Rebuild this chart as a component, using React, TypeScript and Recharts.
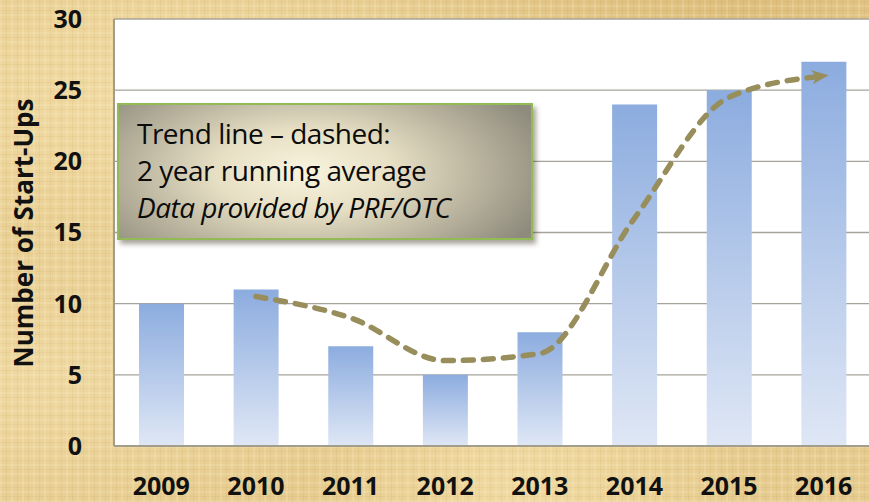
import React from 'react';
import { ComposedChart, Bar, Line, XAxis, YAxis, CartesianGrid } from 'recharts';

const years = ['2009', '2010', '2011', '2012', '2013', '2014', '2015', '2016'];
const startUps = [10, 11, 7, 5, 8, 24, 25, 27];
const runningAverage: (number | null)[] = [null, 10.5, 9, 6, 6.5, 16, 24.5, 26];
const yTicks = [0, 5, 10, 15, 20, 25, 30];
const yAxisTitle = 'Number of Start-Ups';
const noteLines = ['Trend line \u2013 dashed:', '2 year running average', 'Data provided by PRF/OTC'];

const data = years.map((year, i) => ({ year, startUps: startUps[i], avg: runningAverage[i] }));

const FONT = '"Open Sans", "DejaVu Sans", sans-serif';

const parchment: React.CSSProperties = {
  backgroundColor: '#e6cb8e',
  backgroundImage: [
    'repeating-linear-gradient(90deg, rgba(255,248,220,0.16) 0px, rgba(255,248,220,0.16) 2px, rgba(0,0,0,0) 2px, rgba(0,0,0,0) 6px, rgba(150,110,40,0.07) 6px, rgba(150,110,40,0.07) 7px, rgba(0,0,0,0) 7px, rgba(0,0,0,0) 11px)',
    'repeating-linear-gradient(0deg, rgba(255,248,220,0.14) 0px, rgba(255,248,220,0.14) 2px, rgba(0,0,0,0) 2px, rgba(0,0,0,0) 5px, rgba(150,110,40,0.06) 5px, rgba(150,110,40,0.06) 6px, rgba(0,0,0,0) 6px, rgba(0,0,0,0) 9px)',
    'radial-gradient(ellipse at 15% 20%, rgba(250,232,180,0.55), rgba(0,0,0,0) 35%)',
    'radial-gradient(ellipse at 60% 96%, rgba(250,232,180,0.5), rgba(0,0,0,0) 30%)',
    'radial-gradient(ellipse at 5% 75%, rgba(248,230,180,0.5), rgba(0,0,0,0) 30%)',
    'radial-gradient(ellipse at 85% 3%, rgba(205,165,90,0.35), rgba(0,0,0,0) 30%)',
  ].join(', '),
};

export default function App() {
  return (
    <div
      style={{
        position: 'absolute',
        left: 0,
        top: 0,
        width: 869,
        height: 502,
        overflow: 'hidden',
        ...parchment,
      }}
    >
      <svg width={0} height={0} style={{ position: 'absolute' }}>
        <defs>
          <linearGradient id="barGrad" x1="0" y1="0" x2="0" y2="1">
            <stop offset="0%" stopColor="#8cacdf" />
            <stop offset="100%" stopColor="#dfe7f5" />
          </linearGradient>
          <marker
            id="arrowHead"
            viewBox="0 0 10 10"
            refX="7"
            refY="5"
            markerUnits="userSpaceOnUse"
            markerWidth="17"
            markerHeight="17"
            orient="auto"
          >
            <path d="M0,0.8 L10,5 L0,9.2 L2.8,5 Z" fill="#978e5c" />
          </marker>
        </defs>
      </svg>

      <ComposedChart
        width={880}
        height={502}
        data={data}
        margin={{ top: 19, right: 9, bottom: 0, left: 0 }}
        barSize={45}
      >
        <CartesianGrid horizontal vertical={false} stroke="#a6a39a" strokeWidth={1.3} fill="#ffffff" />
        <XAxis
          dataKey="year"
          height={56}
          tickLine={false}
          tickSize={0}
          tickMargin={31}
          axisLine={{ stroke: '#a39d8b', strokeWidth: 2 }}
          tick={{ fill: '#111111', fontSize: 25, fontWeight: 700, fontFamily: FONT }}
          interval={0}
        />
        <YAxis
          width={114}
          domain={[0, 30]}
          ticks={yTicks}
          tickLine={false}
          tickSize={0}
          tickMargin={32}
          axisLine={{ stroke: '#a39d8b', strokeWidth: 2 }}
          tick={{ fill: '#111111', fontSize: 25, fontWeight: 700, fontFamily: FONT }}
          interval={0}
        />
        <Bar dataKey="startUps" fill="url(#barGrad)" isAnimationActive={false} />
        <Line
          dataKey="avg"
          type="monotone"
          stroke="#978e5c"
          strokeWidth={5.5}
          strokeDasharray="10 10"
          strokeLinecap="round"
          dot={false}
          activeDot={false}
          markerEnd="url(#arrowHead)"
          isAnimationActive={false}
        />
      </ComposedChart>

      <div
        style={{
          position: 'absolute',
          left: 23,
          top: 233,
          transform: 'translate(-50%, -50%) rotate(-90deg)',
          whiteSpace: 'nowrap',
          fontFamily: FONT,
          fontWeight: 700,
          fontSize: 26,
          color: '#111111',
          lineHeight: 1,
        }}
      >
        {yAxisTitle}
      </div>

      <div
        style={{
          position: 'absolute',
          left: 117,
          top: 103,
          width: 416,
          height: 137,
          boxSizing: 'border-box',
          border: '2px solid #93bb55',
          background: 'radial-gradient(ellipse 62% 90% at 45% 50%, #f9f4de 0%, #e6dfc4 35%, #b7b19c 70%, #8e8b7d 100%)',
          boxShadow: '3px 4px 5px rgba(60,50,30,0.45)',
          fontFamily: FONT,
          fontSize: 28,
          color: '#0b0b0b',
          paddingLeft: 18,
          paddingTop: 10,
          lineHeight: '37px',
          letterSpacing: -0.5,
        }}
      >
        <div>{noteLines[0]}</div>
        <div>{noteLines[1]}</div>
        <div style={{ fontStyle: 'italic' }}>{noteLines[2]}</div>
      </div>
    </div>
  );
}
